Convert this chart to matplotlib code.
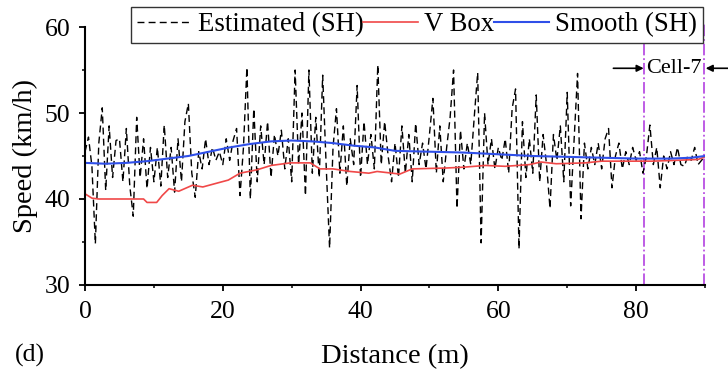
import matplotlib
matplotlib.use("Agg")
import matplotlib.pyplot as plt
import numpy as np

plt.rcParams["font.family"] = ["Liberation Serif", "DejaVu Serif"]

# estimated speed (SH), sampled every 0.5 m
est_x = np.arange(0, 90.01, 0.5)
est_speed = [
    45.5, 47.2, 43.8, 34.8, 46.5, 50.6, 41.0, 48.5, 42.5, 46.8,
    47.0, 42.0, 48.2, 41.5, 38.0, 49.5, 42.5, 47.0, 41.2, 46.0,
    42.0, 46.0, 41.5, 48.6, 42.5, 46.0, 40.8, 47.0, 42.0, 49.0,
    51.1, 43.0, 40.2, 45.5, 43.5, 47.0, 44.0, 46.0, 44.5, 45.5,
    44.0, 47.0, 44.5, 46.8, 48.2, 40.4, 46.0, 55.3, 40.0, 50.5,
    42.0, 48.5, 44.0, 49.0, 42.5, 47.5, 45.0, 48.0, 43.5, 47.0,
    42.0, 55.0, 44.0, 50.0, 40.4, 55.0, 43.0, 49.5, 42.5, 54.4,
    44.0, 34.3, 46.0, 50.5, 43.0, 48.5, 41.5, 47.0, 44.0, 53.2,
    42.5, 49.0, 44.0, 47.5, 43.5, 55.6, 44.0, 49.0, 45.0, 42.0,
    46.5, 42.5, 48.5, 43.0, 47.5, 42.0, 48.8, 44.0, 46.5, 43.5,
    47.5, 51.7, 43.0, 48.5, 42.0, 46.0, 49.5, 55.0, 38.9, 48.0,
    43.5, 46.5, 44.0, 49.5, 54.7, 34.9, 50.0, 44.0, 47.0, 43.5,
    46.0, 44.5, 47.0, 43.0, 50.5, 52.8, 34.2, 49.0, 42.5, 47.0,
    43.0, 52.1, 42.0, 47.5, 44.0, 38.9, 47.5, 44.5, 48.5, 42.0,
    52.4, 39.2, 47.0, 54.6, 37.7, 46.5, 43.5, 46.0, 44.0, 46.5,
    43.5, 47.0, 48.2, 41.3, 45.0, 46.5, 43.5, 45.5, 44.0, 46.0,
    44.5, 45.5, 43.0, 45.0, 48.6, 44.0, 46.0, 41.3, 45.0, 43.5,
    45.5, 44.0, 46.0, 44.0, 43.8, 45.0, 44.5, 46.0, 44.0, 44.5,
    45.0,
]

# V Box reference speed
vbox_x = [0, 1, 2, 4, 6, 8.5, 9, 10.4, 11.2, 12.2, 13.6, 15.6, 17.1, 19.4,
          20.8, 22.5, 25, 27, 29.8, 32.7, 34.1, 36, 38.5, 41.2, 42.4, 45.7,
          47.5, 52.3, 55, 58.1, 61, 64.5, 66.2, 68.4, 72.6, 75, 79, 82.3,
          86, 89, 90]
vbox_speed = [40.6, 40.1, 40.0, 40.0, 40.0, 40.0, 39.6, 39.6, 40.4, 41.2,
              40.9, 41.6, 41.4, 41.9, 42.2, 43.0, 43.4, 43.9, 44.2, 44.2,
              43.5, 43.5, 43.2, 43.0, 43.2, 42.9, 43.5, 43.6, 43.7, 43.9,
              43.8, 44.0, 44.3, 44.1, 44.2, 44.4, 44.4, 44.4, 44.5, 44.6,
              44.9]

# smoothed estimate (SH)
smooth_x = [0, 3, 6, 9, 12, 15, 18, 21, 24, 27, 30, 33, 36, 39, 42, 45,
            50, 55, 60, 65, 70, 75, 80, 85, 88, 90]
smooth_speed = [44.2, 44.1, 44.2, 44.4, 44.7, 45.0, 45.5, 46.0, 46.4, 46.7,
                46.8, 46.7, 46.5, 46.2, 46.0, 45.6, 45.5, 45.4, 45.2, 45.0,
                44.9, 44.8, 44.7, 44.7, 44.8, 45.0]

cell_bounds = [81.1, 89.9]
cell_label = "Cell-7"

fig = plt.figure(figsize=(7.28, 3.72), dpi=100)
ax = fig.add_axes([0.1168, 0.2339, 0.8516, 0.6935])

ax.plot(est_x, est_speed, color="black", lw=1.0, ls=(0, (5, 3)),
        label="Estimated (SH)")
ax.plot(vbox_x, vbox_speed, color="#F04848", lw=1.2, label="V Box")
ax.plot(smooth_x, smooth_speed, color="#2F4FE8", lw=1.5, label="Smooth (SH)")

# cell boundaries
purple = "#B94FE3"
for xb in cell_bounds:
    ax.plot([xb, xb], [30, 60.3], color=purple, lw=1.3, ls="-.",
            clip_on=False, zorder=1)

arrow_style = dict(arrowstyle="-|>", color="black", lw=1.2,
                   mutation_scale=10, shrinkA=0, shrinkB=0)
ax.annotate("", xy=(cell_bounds[0], 55.2), xytext=(cell_bounds[0] - 4.4, 55.2),
            arrowprops=arrow_style, annotation_clip=False)
ax.annotate("", xy=(cell_bounds[1] + 0.2, 55.2), xytext=(cell_bounds[1] + 3.5, 55.2),
            arrowprops=arrow_style, annotation_clip=False)
ax.text((cell_bounds[0] + cell_bounds[1]) / 2, 55.2, cell_label,
        ha="center", va="center", fontsize=16)

ax.set_xlim(0, 90)
ax.set_ylim(30, 60)
ax.set_xticks([0, 20, 40, 60, 80])
ax.set_xticks([10, 30, 50, 70, 90], minor=True)
ax.set_yticks([30, 40, 50, 60])
ax.set_yticks([35, 45, 55], minor=True)
ax.tick_params(which="major", direction="out", length=4, width=1.3,
               labelsize=18.5)
ax.tick_params(axis="x", which="major", pad=7.5)
ax.tick_params(axis="y", which="major", pad=6.5)
ax.tick_params(which="minor", direction="out", length=2.5, width=1.1)

for side in ["top", "right"]:
    ax.spines[side].set_visible(False)
for side in ["left", "bottom"]:
    ax.spines[side].set_linewidth(1.5)

ax.set_xlabel("Distance (m)", fontsize=20.5, labelpad=15)
ax.set_ylabel("Speed (km/h)", fontsize=20.5, labelpad=5)
fig.text(15 / 728, 10 / 372, "(d)", fontsize=18.5, va="baseline")

leg = ax.legend(loc="upper right", bbox_to_anchor=(0.996, 1.0775), ncol=3,
                fontsize=19.3, handlelength=2.05, handletextpad=0.22,
                columnspacing=0.0, borderpad=0.2, borderaxespad=0,
                frameon=True, fancybox=False, framealpha=1)
leg.get_frame().set_edgecolor("#333333")
leg.get_frame().set_linewidth(1.0)

fig.savefig("out.png", dpi=100)
